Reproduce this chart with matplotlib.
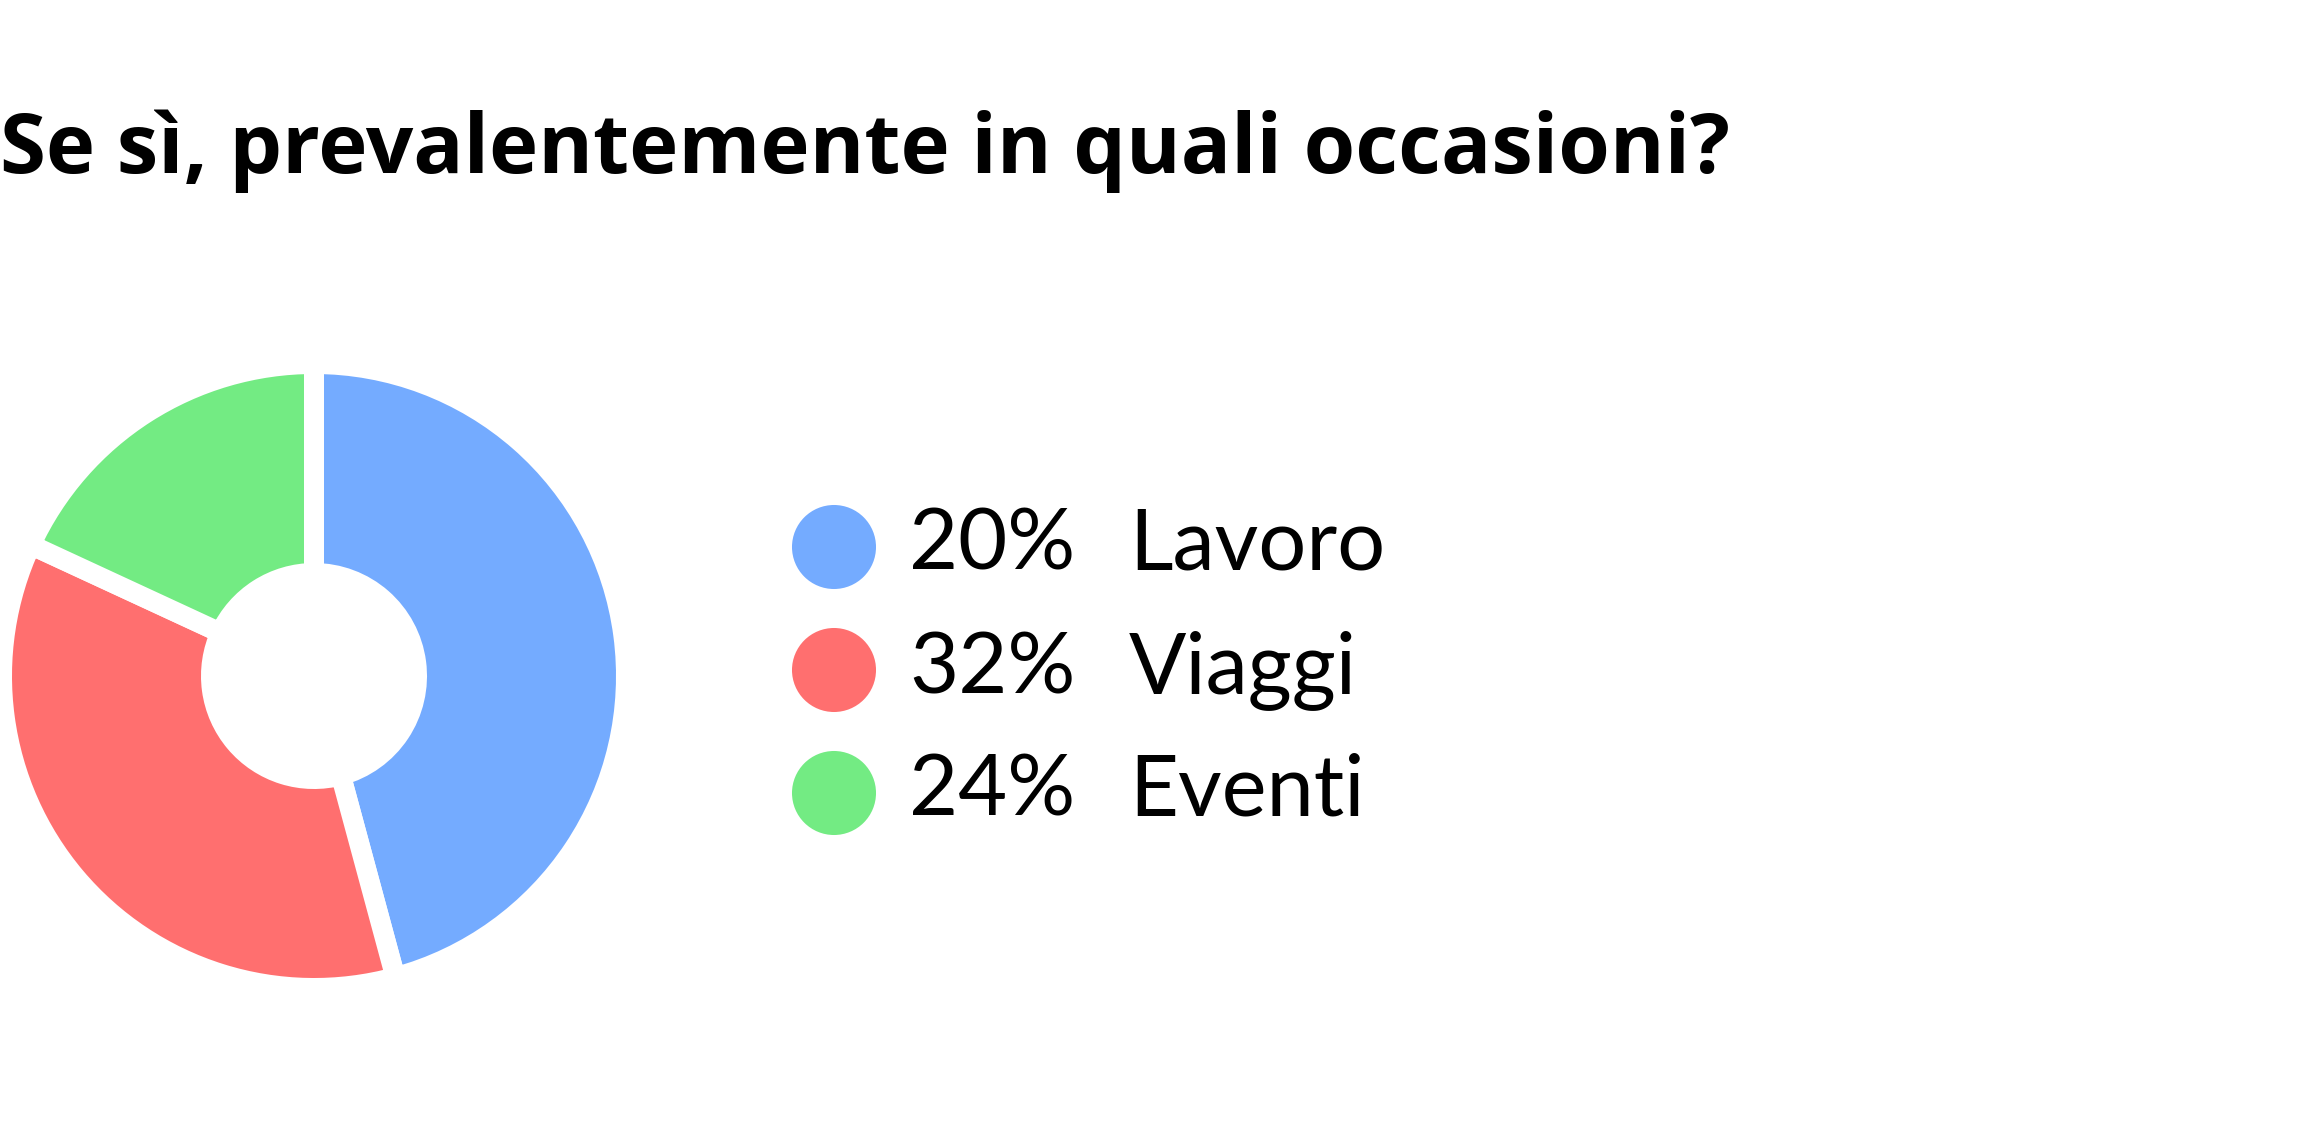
import matplotlib.pyplot as plt

titolo = "Se sì, prevalentemente in quali occasioni?"
categorie = ["Lavoro", "Viaggi", "Eventi"]
percentuali = [20, 32, 24]          # valori scritti nella legenda
quote_fette = [45.8, 36.1, 18.1]    # ampiezza delle fette come disegnate
colori = ["#74abff", "#ff6f6f", "#73eb83"]

W, H = 2317, 1146
fig = plt.figure(figsize=(W / 100, H / 100), dpi=100)
fig.patch.set_facecolor("white")

# ciambella: centro (314, 676) px, raggio 350 px per unita'
cx, cy, half = 314, 676, 350
ax = fig.add_axes([(cx - half) / W, (H - cy - half) / H, 2 * half / W, 2 * half / H])
gap = 20  # px
wedges, _ = ax.pie(quote_fette, colors=colori, startangle=90, counterclock=False,
                   radius=(302 + gap / 2) / half,
                   wedgeprops=dict(width=(302 - 113 + gap) / half, edgecolor="white",
                                   linewidth=gap * 0.72, joinstyle="miter"))
ax.set_xlim(-1, 1)
ax.set_ylim(-1, 1)
ax.set_aspect("equal")
ax.axis("off")

# livello sopra per titolo e legenda, in pixel
lax = fig.add_axes([0, 0, 1, 1])
lax.set_xlim(0, W)
lax.set_ylim(H, 0)
lax.axis("off")

lax.text(0, 173, titolo, fontsize=60, fontweight="bold", family="Open Sans",
         ha="left", va="baseline")

y0, passo = 547, 123
for i, (cat, pct, col) in enumerate(zip(categorie, percentuali, colori)):
    y = y0 + i * passo
    lax.scatter([834], [y], s=3660, color=col, edgecolors="none")
    lax.text(909, y + 23, f"{pct}%", fontsize=61, family="Lato", ha="left", va="baseline")
    lax.text(1129, y + 23, cat, fontsize=61, family="Lato", ha="left", va="baseline")

fig.savefig("out.png", dpi=100)
